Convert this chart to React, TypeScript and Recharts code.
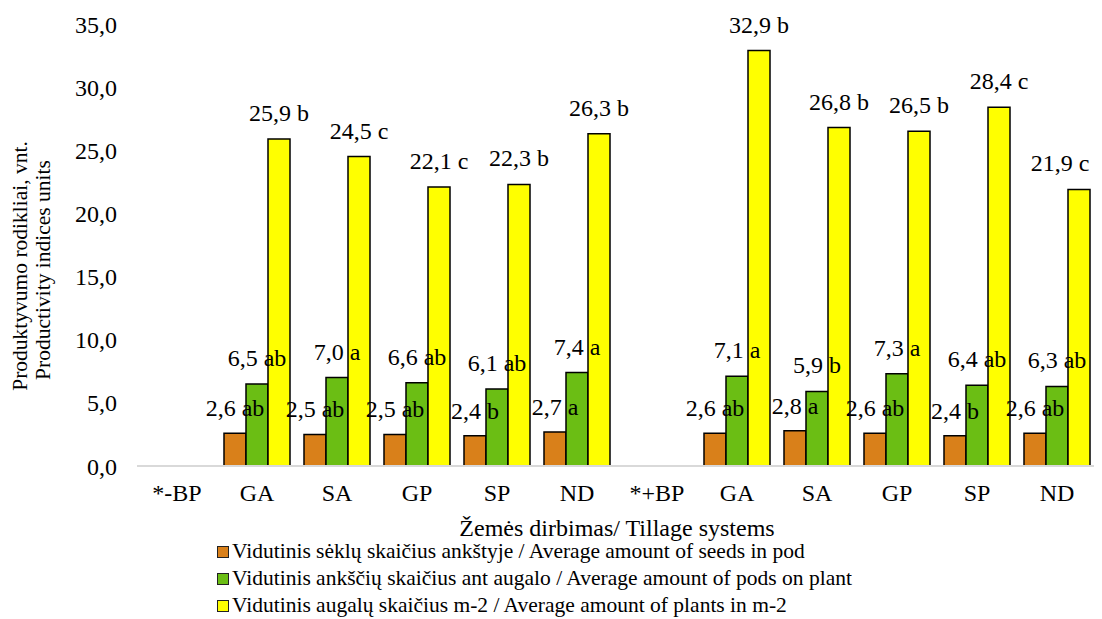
import React from 'react';
import { BarChart, Bar, XAxis, YAxis, LabelList, Legend } from 'recharts';

const categories = ['*-BP', 'GA', 'SA', 'GP', 'SP', 'ND', '*+BP', 'GA', 'SA', 'GP', 'SP', 'ND'];
const seeds = [null, 2.6, 2.5, 2.5, 2.4, 2.7, null, 2.6, 2.8, 2.6, 2.4, 2.6];
const seedsLetters = ['', 'ab', 'ab', 'ab', 'b', 'a', '', 'ab', 'a', 'ab', 'b', 'ab'];
const pods = [null, 6.5, 7.0, 6.6, 6.1, 7.4, null, 7.1, 5.9, 7.3, 6.4, 6.3];
const podsLetters = ['', 'ab', 'a', 'ab', 'ab', 'a', '', 'a', 'b', 'a', 'ab', 'ab'];
const plants = [null, 25.9, 24.5, 22.1, 22.3, 26.3, null, 32.9, 26.8, 26.5, 28.4, 21.9];
const plantsLetters = ['', 'b', 'c', 'c', 'b', 'b', '', 'b', 'b', 'b', 'c', 'c'];
const yTicks = [0, 5, 10, 15, 20, 25, 30, 35];
const seriesNames = [
  'Vidutinis sėklų skaičius ankštyje / Average amount of seeds in pod',
  'Vidutinis ankščių skaičius ant augalo / Average amount of pods on plant',
  'Vidutinis augalų skaičius m-2 / Average amount of plants in m-2',
];
const seriesColors = ['#D9801A', '#6BBE14', '#FFFF00'];
const yTitleLines = ['Produktyvumo rodikliai, vnt.', 'Productivity indices units'];
const xTitle = 'Žemės dirbimas/ Tillage systems';

const FONT = '"Liberation Serif", "Times New Roman", serif';
const fmt = (v: number) => v.toFixed(1).replace('.', ',');
const lbl = (v: number | null, l: string) => (v == null ? null : `${fmt(v)} ${l}`);

const data = categories.map((c, i) => ({
  idx: i,
  name: c,
  seeds: seeds[i],
  pods: pods[i],
  plants: plants[i],
  seedsLabel: lbl(seeds[i], seedsLetters[i]),
  podsLabel: lbl(pods[i], podsLetters[i]),
  plantsLabel: lbl(plants[i], plantsLetters[i]),
}));

const YTitle = () => {
  const cy = 258;
  return (
    <g>
      <text transform={`translate(19,${cy}) rotate(-90)`} textAnchor="middle" fontFamily={FONT} fontSize={21.5} fill="#000">
        {yTitleLines[0]}
      </text>
      <text transform={`translate(42,${cy + 4}) rotate(-90)`} textAnchor="middle" fontFamily={FONT} fontSize={21.5} fill="#000">
        {yTitleLines[1]}
      </text>
    </g>
  );
};

const XTitle = (props: any) => {
  const vb = props.viewBox || { x: 129, y: 458, width: 960 };
  return (
    <text x={vb.x + vb.width / 2} y={vb.y + 70} textAnchor="middle" fontFamily={FONT} fontSize={24} fill="#000">
      {xTitle}
    </text>
  );
};

const LegendContent = () => (
  <div style={{ fontFamily: FONT, fontSize: 21.5, lineHeight: '27px', color: '#000', textAlign: 'left' }}>
    {seriesNames.map((n, i) => (
      <div key={i} style={{ display: 'flex', alignItems: 'center', whiteSpace: 'nowrap' }}>
        <span
          style={{
            display: 'inline-block',
            width: 10,
            height: 10,
            background: seriesColors[i],
            border: '1.5px solid #222',
            marginRight: 3,
          }}
        />
        {n}
      </div>
    ))}
  </div>
);

const CHART_W = 1094;

const makeLabel = (offset: number) => (p: any) => {
  if (p.value == null || p.value === '') return null;
  const half = String(p.value).length * 5;
  let x = Number(p.x) + Number(p.width) / 2;
  const maxRight = CHART_W - 12;
  if (x + half > maxRight) x = maxRight - half;
  const y = Number(p.y) - offset;
  return (
    <text x={x} y={y} textAnchor="middle" fontFamily={FONT} fontSize={24} fill="#000">
      {p.value}
    </text>
  );
};

export default function App() {
  return (
    <BarChart
      width={CHART_W}
      height={611}
      data={data}
      margin={{ top: 16, right: 5, left: 0, bottom: 73 }}
      barGap={0}
      barSize={22}
    >
      <XAxis
        dataKey="idx"
        type="category"
        tickFormatter={(i: number) => categories[i]}
        axisLine={{ stroke: '#d9d9d9', strokeWidth: 2 }}
        tickLine={false}
        tickSize={0}
        tickMargin={18}
        height={80}
        interval={0}
        tick={{ fill: '#000', fontSize: 24, fontFamily: FONT }}
        label={{ content: XTitle }}
      />
      <XAxis xAxisId="lbl" dataKey="idx" type="category" hide />
      <YAxis
        domain={[0, 35]}
        ticks={yTicks}
        interval={0}
        axisLine={false}
        tickLine={false}
        tickSize={0}
        tickMargin={20}
        width={129}
        tickFormatter={fmt}
        tick={{ fill: '#000', fontSize: 24, fontFamily: FONT }}
        label={{ content: YTitle }}
      />
      <Legend
        layout="horizontal"
        verticalAlign="middle"
        align="center"
        content={LegendContent}
        wrapperStyle={{ position: 'absolute', top: 530, left: 209, width: 900, height: 84 }}
      />
      <Bar dataKey="seeds" fill={seriesColors[0]} stroke="#000" strokeWidth={1.5} isAnimationActive={false} />
      <Bar dataKey="pods" fill={seriesColors[1]} stroke="#000" strokeWidth={1.5} isAnimationActive={false} />
      <Bar dataKey="plants" fill={seriesColors[2]} stroke="#000" strokeWidth={1.5} isAnimationActive={false} />
      <Bar xAxisId="lbl" dataKey="seeds" fill="transparent" legendType="none" isAnimationActive={false}>
        <LabelList dataKey="seedsLabel" content={makeLabel(17)} />
      </Bar>
      <Bar xAxisId="lbl" dataKey="pods" fill="transparent" legendType="none" isAnimationActive={false}>
        <LabelList dataKey="podsLabel" content={makeLabel(18)} />
      </Bar>
      <Bar xAxisId="lbl" dataKey="plants" fill="transparent" legendType="none" isAnimationActive={false}>
        <LabelList dataKey="plantsLabel" content={makeLabel(18)} />
      </Bar>
    </BarChart>
  );
}
